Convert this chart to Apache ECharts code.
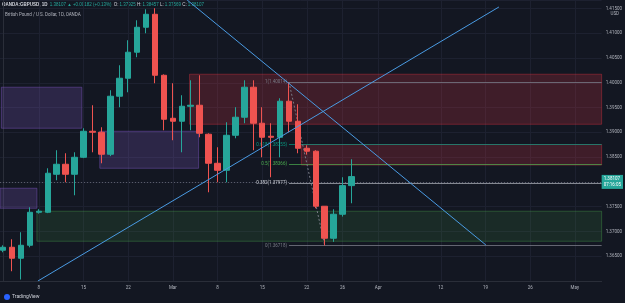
<!DOCTYPE html>
<html>
<head>
<meta charset="utf-8">
<script src="https://cdn.jsdelivr.net/npm/echarts@6/dist/echarts.min.js"></script>
<style>
html, body { margin: 0; padding: 0; background: #131722; }
#chart { width: 625px; height: 303px; }
</style>
</head>
<body>
<div id="chart"></div>
<script>
// GBPUSD daily candles
const days = ['02-02','02-03','02-04','02-05','02-08','02-09','02-10','02-11','02-12',
  '02-15','02-16','02-17','02-18','02-19','02-22','02-23','02-24','02-25','02-26',
  '03-01','03-02','03-03','03-04','03-05','03-08','03-09','03-10','03-11','03-12',
  '03-15','03-16','03-17','03-18','03-19','03-22','03-23','03-24','03-25','03-26','03-29'];
const opens  = [1.36621,1.36681,1.36459,1.36721,1.37387,1.37387,1.38154,1.38356,1.38154,1.38497,
  1.39022,1.39002,1.38558,1.39729,1.40092,1.40617,1.41121,1.41383,1.40152,1.39284,
  1.39224,1.39527,1.39547,1.38962,1.38376,1.38235,1.38941,1.39305,1.39911,1.39184,
  1.38921,1.38901,1.39628,1.39224,1.38679,1.38619,1.37509,1.36863,1.37347,1.37925];
const closes = [1.36681,1.36459,1.36721,1.37387,1.37408,1.38175,1.38356,1.38154,1.38497,1.39022,
  1.39002,1.38558,1.39729,1.40092,1.40617,1.41121,1.41383,1.40152,1.39264,1.39224,
  1.39527,1.39547,1.38982,1.38376,1.38235,1.38941,1.39305,1.39911,1.39184,1.38901,
  1.38901,1.39628,1.39224,1.38679,1.38619,1.37509,1.36863,1.37347,1.37925,1.38107];
const lows   = [1.36580,1.36197,1.36030,1.36680,1.37360,1.37370,1.38033,1.37993,1.37730,1.38480,
  1.38598,1.38376,1.38520,1.39507,1.39809,1.40516,1.41000,1.39991,1.39042,1.38841,
  1.38598,1.39042,1.38901,1.37791,1.37993,1.37993,1.38880,1.39184,1.38639,1.38497,
  1.38094,1.38497,1.39002,1.38578,1.38550,1.37468,1.36718,1.36790,1.37300,1.37569];
const highs  = [1.36720,1.36842,1.36984,1.37488,1.37450,1.38275,1.38639,1.38578,1.38598,1.39083,
  1.39547,1.39103,1.39850,1.40354,1.40859,1.41262,1.41484,1.41505,1.40170,1.39991,
  1.39749,1.40051,1.40152,1.38980,1.38699,1.39204,1.39507,1.40051,1.40051,1.39507,
  1.39184,1.39688,1.40014,1.39567,1.38740,1.38639,1.37509,1.37448,1.38094,1.38457];

// time scale labels (bar index -> text)
const tickIndex  = [4, 9, 14, 19, 24, 29, 34, 38, 42, 49, 54, 59, 64];
const tickLabels = ['8', '15', '22', 'Mar', '8', '15', '22', '26', 'Apr', '12', '19', '26', 'May'];

// fib retracement from bar 32 high to bar 36 low
const fibLevels = ['1', '0.618', '0.5', '0.382', '0'];
const fibPrices = [1.40014, 1.38755, 1.38366, 1.37977, 1.36718];
const fibColors = ['#787b86', '#089981', '#4caf50', '#d1d4dc', '#787b86'];
const fibLineColors = ['rgba(120,123,134,0.8)', 'rgba(8,153,129,0.7)', 'rgba(76,175,80,0.7)', 'rgba(209,212,220,0.6)', 'rgba(120,123,134,0.8)'];

// rectangles [barFrom, priceTop, barTo, priceBottom]
const redZones    = [[20.87, 1.40173, 67, 1.39163], [33.38, 1.38755, 67, 1.38340]];
const purpleZones = [[-0.2, 1.39911, 8.81, 1.39083], [-0.35, 1.37872, 3.78, 1.37468], [10.82, 1.39022, 21.88, 1.38275]];
const greenZones  = [[3.78, 1.37408, 67, 1.36802]];

// trend lines [[bar, price], [bar, price]]
const trendLines = [
  [[3.89, 1.36000], [55.5, 1.41530]],
  [[20.6, 1.41671], [54.04, 1.36727]]
];

const lastPrice = 1.38107;
const up = '#26a69a', down = '#ef5350';
const font = 'Roboto, sans-serif';

const chart = echarts.init(document.getElementById('chart'));

function zones(list, fill, border) {
  return list.map(z => [
    { coord: [z[0], z[1]], itemStyle: { color: fill, borderColor: border, borderWidth: 1 } },
    { coord: [z[2], z[3]] }
  ]);
}

const series = [
  {
    type: 'candlestick',
    dimensions: ['x', 'open', 'close', 'lowest', 'highest'],
    encode: { x: 'x', y: ['open', 'close', 'lowest', 'highest'] },
    data: opens.map((o, i) => [i, o, closes[i], lows[i], highs[i]]),
    barWidth: 6,
    itemStyle: { color: up, color0: down, borderColor: up, borderColor0: down, borderWidth: 1 },
    z: 5,
    markArea: {
      silent: true,
      data: zones(redZones, 'rgba(242,54,69,0.20)', 'rgba(242,54,69,0.35)')
        .concat(zones(purpleZones, 'rgba(126,87,194,0.24)', 'rgba(126,87,194,0.45)'))
        .concat(zones(greenZones, 'rgba(76,175,80,0.13)', 'rgba(76,175,80,0.35)'))
    },
    markLine: {
      silent: true,
      symbol: ['none', 'none'],
      animation: false,
      data: [
        {
          yAxis: lastPrice,
          lineStyle: { color: 'rgba(149,152,161,0.5)', type: [1, 2], width: 1 },
          label: {
            show: true, position: 'end', distance: 0,
            formatter: '1.38107\n07:16:05',
            color: '#fff', backgroundColor: up, fontSize: 4.5, lineHeight: 6,
            padding: [1, 2], fontFamily: font, align: 'left'
          }
        }
      ].concat(fibPrices.map((p, k) => [
        {
          coord: [32, p],
          lineStyle: { color: fibLineColors[k], type: 'solid', width: 1 },
          label: {
            show: true, position: 'start', distance: 2,
            formatter: fibLevels[k] + '(' + p.toFixed(5) + ')',
            color: fibColors[k], fontSize: 4.5, fontFamily: font
          }
        },
        { coord: [67, p] }
      ])).concat([[
        { coord: [32, fibPrices[0]], lineStyle: { color: '#787b86', type: [2, 2], width: 1 }, label: { show: false } },
        { coord: [36, fibPrices[4]] }
      ]])
    }
  }
].concat(trendLines.map(l => ({
  type: 'line',
  data: l,
  showSymbol: false,
  symbol: 'none',
  silent: true,
  lineStyle: { color: '#4a9be3', width: 1 },
  z: 6
})));

chart.setOption({
  backgroundColor: '#131722',
  animation: false,
  grid: { left: 0, right: 22, top: 0, bottom: 22 },
  xAxis: {
    type: 'value',
    min: -0.35,
    max: 67,
    axisLine: { show: true, lineStyle: { color: '#2a2e39' } },
    axisTick: { show: false, customValues: tickIndex },
    axisLabel: {
      customValues: tickIndex,
      formatter: v => tickLabels[tickIndex.indexOf(v)],
      color: '#b2b5be', fontSize: 4.5, fontFamily: font, margin: 4
    },
    splitLine: { show: true, lineStyle: { color: '#1d2130' } }
  },
  yAxis: {
    type: 'value',
    position: 'right',
    min: 1.36,
    max: 1.41671,
    interval: 0.005,
    axisLine: { show: true, lineStyle: { color: '#2a2e39' } },
    axisTick: { show: false },
    axisLabel: {
      formatter: v => v.toFixed(5),
      showMinLabel: false, showMaxLabel: false,
      color: '#b2b5be', fontSize: 4.5, fontFamily: font, margin: 4
    },
    splitLine: { show: true, lineStyle: { color: '#1d2130' } }
  },
  series: series,
  graphic: [
    {
      type: 'text', left: 2, top: 2,
      style: {
        text: '{s|OANDA:GBPUSD, 1D}  {u|1.38107 ▲ +0.00182 (+0.13%)}  {k|O:} {u|1.37925} {k|H:} {u|1.38457} {k|L:} {u|1.37569} {k|C:} {u|1.38107}',
        fontFamily: font, fontSize: 4.5,
        rich: {
          s: { fill: '#d1d4dc', fontWeight: 'bold', fontSize: 4.5 },
          u: { fill: up, fontSize: 4.5 },
          k: { fill: '#d1d4dc', fontSize: 4.5 }
        }
      }
    },
    {
      type: 'text', left: 5, top: 12,
      style: { text: 'British Pound / U.S. Dollar, 1D, OANDA', fill: '#b2b5be', fontSize: 4.5, fontFamily: font }
    },
    {
      type: 'text', right: 6, top: 11,
      style: { text: 'USD', fill: '#b2b5be', fontSize: 4.5, fontFamily: font }
    },
    {
      type: 'text', left: 12, top: 294,
      style: { text: 'TradingView', fill: '#d1d4dc', fontSize: 5, fontFamily: font }
    },
    {
      type: 'circle', shape: { cx: 7, cy: 297, r: 3 },
      style: { fill: '#2962ff' }
    }
  ]
});
</script>
</body>
</html>
